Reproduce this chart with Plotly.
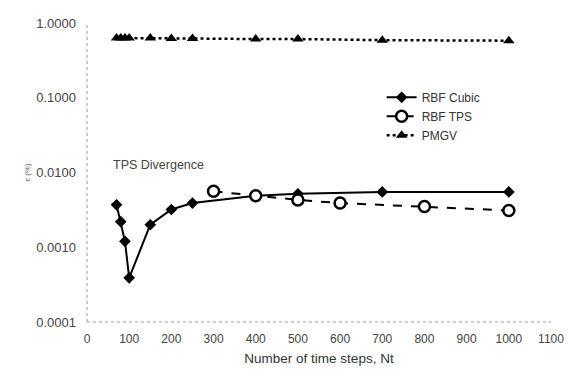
import plotly.graph_objects as go

# Data
cubic_x = [70, 80, 90, 100, 150, 200, 250, 400, 500, 700, 1000]
cubic_y = [0.0037, 0.0022, 0.0012, 0.00039, 0.0020, 0.0032, 0.0039, 0.0049, 0.0052, 0.0055, 0.0055]

tps_x = [300, 400, 500, 600, 800, 1000]
tps_y = [0.0056, 0.0049, 0.0043, 0.0039, 0.0035, 0.0031]

pmgv_x = [70, 80, 90, 100, 150, 200, 250, 400, 500, 700, 1000]
pmgv_y = [0.63, 0.63, 0.63, 0.63, 0.63, 0.62, 0.62, 0.61, 0.61, 0.59, 0.58]

x_ticks = [0, 100, 200, 300, 400, 500, 600, 700, 800, 900, 1000, 1100]
y_ticks = [0.0001, 0.001, 0.01, 0.1, 1.0]
y_tick_labels = ["0.0001", "0.0010", "0.0100", "0.1000", "1.0000"]

FONT = "Liberation Sans, Arial, sans-serif"

fig = go.Figure()
fig.add_trace(go.Scatter(
    x=cubic_x, y=cubic_y, name="RBF Cubic", mode="lines+markers",
    line=dict(color="black", width=2),
    marker=dict(symbol="diamond", size=9, color="black"),
))
fig.add_trace(go.Scatter(
    x=tps_x, y=tps_y, name="RBF TPS", mode="lines+markers",
    line=dict(color="black", width=2, dash="dash"),
    marker=dict(symbol="circle", size=11, color="white", line=dict(color="black", width=2.5)),
))
fig.add_trace(go.Scatter(
    x=pmgv_x, y=pmgv_y, name="PMGV", mode="lines+markers",
    line=dict(color="black", width=2.5, dash="dot"),
    marker=dict(symbol="triangle-up", size=10, color="black"),
))

fig.update_layout(
    width=576, height=378,
    margin=dict(l=87, r=18, t=23, b=56),
    paper_bgcolor="white", plot_bgcolor="white",
    font=dict(family=FONT, color="#444", size=11),
    showlegend=True,
    legend=dict(
        x=0.635, y=0.80, xanchor="left", yanchor="top",
        bgcolor="rgba(0,0,0,0)", font=dict(size=12, color="#333"),
        itemwidth=30, tracegroupgap=0,
    ),
    annotations=[
        dict(text="TPS Divergence", x=0.155, y=0.525, xref="paper", yref="paper",
             showarrow=False, font=dict(size=12.5, color="#444"), xanchor="center", yanchor="middle"),
    ],
    shapes=[
        dict(type="line", xref="paper", yref="paper", x0=0, x1=0, y0=0, y1=1,
             line=dict(color="#999", width=1, dash="dot")),
        dict(type="line", xref="paper", yref="paper", x0=0, x1=1, y0=0, y1=0,
             line=dict(color="#999", width=1, dash="dot")),
    ],
)
fig.update_xaxes(
    range=[0, 1100], tickvals=x_ticks, ticktext=[str(v) for v in x_ticks],
    showgrid=False, zeroline=False, showline=False, ticks="",
    tickfont=dict(size=12, color="#444"), ticklabelstandoff=8,
    title=dict(text="Number of time steps, Nt", font=dict(size=13.5, color="#333"), standoff=8),
)
fig.update_yaxes(
    type="log", range=[-4, 0], tickvals=y_ticks, ticktext=y_tick_labels,
    showgrid=False, zeroline=False, showline=False, ticks="",
    tickfont=dict(size=13, color="#444"), ticklabelstandoff=10,
    title=dict(text="ε (%)", font=dict(size=8, color="#666"), standoff=4),
)

fig.write_html("out.html")
